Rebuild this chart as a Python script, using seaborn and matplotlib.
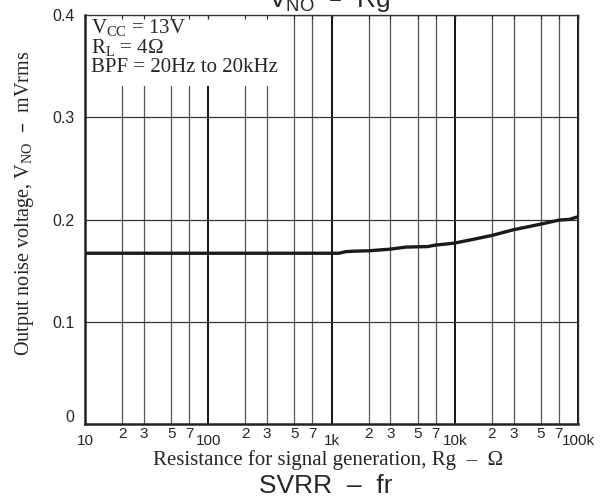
import seaborn as sns
from matplotlib import pyplot as plt
from matplotlib.patches import Rectangle
from matplotlib.transforms import ScaledTranslation

# curve (Rg in ohm, VNO in mVrms)
rg = [10, 100, 1000, 1150, 1300, 1500, 2000, 3000, 4000, 5000, 6000, 7000,
      8500, 10000, 14000, 20000, 30000, 50000, 70000, 85000, 100000]
vno = [0.167, 0.167, 0.167, 0.167, 0.1685, 0.169, 0.1694, 0.171, 0.173,
       0.1733, 0.1735, 0.175, 0.176, 0.177, 0.1805, 0.1844, 0.190, 0.1955,
       0.1994, 0.2001, 0.2027]

decades = [10, 100, 1000, 10000, 100000]
decade_labels = ['10', '100', '1k', '10k', '100k']
minor_mult = [2, 3, 5, 7]
y_ticks = [0, 0.1, 0.2, 0.3, 0.4]
y_labels = ['0', '0.1', '0.2', '0.3', '0.4']

sns.set_style('white')
plt.rcParams['font.family'] = ['Liberation Sans', 'DejaVu Sans']
plt.rcParams['mathtext.default'] = 'regular'

serif = ['Liberation Serif', 'DejaVu Serif']
sans = ['Liberation Sans', 'DejaVu Sans']

fig = plt.figure(figsize=(6.08, 5.04), dpi=100)
ax = fig.add_axes([85/608, 1 - 424/504, 493/608, 409/504])

minor_vals = [d * m for d in decades[:-1] for m in minor_mult]

# grid
for v in minor_vals:
    ax.axvline(v, color='#555555', lw=0.9, zorder=1)
for v in decades:
    ax.axvline(v, color='black', lw=1.3, zorder=1)
for v in y_ticks[1:]:
    ax.axhline(v, color='#333333', lw=0.9, zorder=1)

sns.lineplot(x=rg, y=vno, ax=ax, color='#1a1a1a', linewidth=2.4, zorder=3)

ax.set_xscale('log')
ax.set_xlim(10, 100000)
ax.set_ylim(0, 0.4)

# white box behind the conditions
ax.add_patch(Rectangle((0, 1 - 71/409), 197/493, 71/409, transform=ax.transAxes,
                       facecolor='white', edgecolor='none', zorder=2))
ax.text(6/493, 1 - 2/409,
        '$V_{CC}$ = 13V\n$R_{L}$ = 4Ω\nBPF = 20Hz to 20kHz',
        transform=ax.transAxes, ha='left', va='top', family=serif,
        fontsize=15, linespacing=0.95, zorder=4)

ax.set_axisbelow(False)
ax.set_xticks(decades, decade_labels)
ax.set_xticks(minor_vals, [str(m) for d in decades[:-1] for m in minor_mult],
              minor=True)
ax.set_yticks(y_ticks, y_labels)
ax.tick_params(axis='x', which='major', bottom=False, top=True, direction='in',
               length=3, width=1, labelsize=11, pad=7)
ax.tick_params(axis='x', which='minor', bottom=False, top=True, direction='in',
               length=3, width=0.8, labelsize=11, pad=2)
ax.tick_params(axis='y', left=False, labelsize=11.5, pad=4)
for lab in ax.get_xticklabels(which='both') + ax.get_yticklabels():
    lab.set_family(sans)
ax.get_yticklabels()[0].set_transform(
    ax.get_yticklabels()[0].get_transform()
    + ScaledTranslation(0, 8/100, fig.dpi_scale_trans))

for side in ['left', 'bottom']:
    ax.spines[side].set_linewidth(1.8)
    ax.spines[side].set_color('#222222')
for side in ['top', 'right']:
    ax.spines[side].set_linewidth(1.0)
    ax.spines[side].set_color('#333333')

fig.text(328/608, 1 - 460/504, 'Resistance for signal generation, Rg  –  Ω',
         ha='center', va='center', family=serif, fontsize=15)
fig.text(25/608, 1 - 203/504, 'Output noise voltage, $V_{NO}$  –  mVrms',
         ha='center', va='center', rotation=90, family=serif, fontsize=14.5)

fig.text(268/608, 1 - 7/504, '$V_{NO}$  –  Rg', ha='left', va='baseline',
         family=sans, fontsize=19)
fig.text(326/608, 1 - 486/504, 'SVRR  –  fr', ha='center', va='center',
         family=sans, fontsize=19)

fig.savefig('out.png', dpi=100)
